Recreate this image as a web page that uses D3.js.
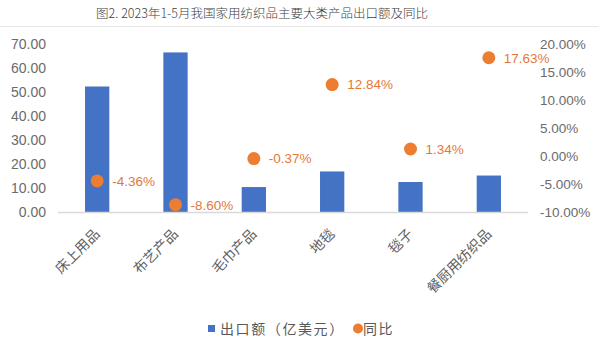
<!DOCTYPE html>
<html>
<head>
<meta charset="utf-8">
<script src="https://cdn.jsdelivr.net/npm/d3@7/dist/d3.min.js"></script>
<style>
  html, body { margin: 0; padding: 0; background: #fff; }
  svg { display: block; font-family: "Liberation Sans", Arial, "Noto Sans CJK SC", sans-serif; }
</style>
</head>
<body>
<svg id="chart" width="599" height="345"></svg>
<script>
// Export categories, export value (100 million USD) and year-on-year change (%)
const categories = ["床上用品", "布艺产品", "毛巾产品", "地毯", "毯子", "餐厨用纺织品"];
const exportValues = [52.5, 66.7, 10.6, 17.1, 12.7, 15.4];
const yoyChange = [-4.36, -8.60, -0.37, 12.84, 1.34, 17.63];
const leftTicks = [0, 10, 20, 30, 40, 50, 60, 70];
const rightTicks = [-10, -5, 0, 5, 10, 15, 20];
const titleText = "图2. 2023年1-5月我国家用纺织品主要大类产品出口额及同比";
const legendLabels = ["出口额（亿美元）", "同比"];

const svg = d3.select("#chart");
const BLUE = "#4472C4", ORANGE = "#ED7D31", LABEL_ORANGE = "#E2793A", AXIS_TEXT = "#6b6b6b";

// title and rule beneath it
svg.append("text")
  .attr("x", 262).attr("y", 18)
  .attr("text-anchor", "middle")
  .attr("font-family", "'Noto Sans CJK SC', sans-serif")
  .attr("font-weight", 300)
  .attr("font-size", 12.5).attr("fill", "#404040")
  .text(titleText);
svg.append("line")
  .attr("x1", 0).attr("x2", 599).attr("y1", 26.5).attr("y2", 26.5)
  .attr("stroke", "#e6e6e6").attr("stroke-width", 1);

const x = d3.scaleBand().domain(categories).range([58, 528]).paddingInner(0.69).paddingOuter(0.345);
const yL = d3.scaleLinear().domain([0, 70]).range([212.5, 44.5]);
const yR = d3.scaleLinear().domain([-10, 20]).range([212.5, 44.5]);

// left axis
const leftAxis = d3.axisLeft(yL).tickValues(leftTicks).tickFormat(d => d.toFixed(2)).tickSize(0).tickPadding(0);
const gL = svg.append("g").attr("transform", "translate(46,0)").call(leftAxis);
gL.select(".domain").remove();
gL.selectAll("text").attr("font-size", 14).attr("fill", AXIS_TEXT).attr("font-family", null);

// right axis
const rightAxis = d3.axisRight(yR).tickValues(rightTicks)
  .tickFormat(d => (d < 0 ? "-" : "") + Math.abs(d).toFixed(2) + "%").tickSize(0).tickPadding(0);
const gR = svg.append("g").attr("transform", "translate(540,0)").call(rightAxis);
gR.select(".domain").remove();
gR.selectAll("text").attr("font-size", 13.5).attr("fill", AXIS_TEXT).attr("font-family", null);

// bars
svg.append("g").selectAll("rect").data(categories).join("rect")
  .attr("x", d => x(d))
  .attr("y", (d, i) => yL(exportValues[i]))
  .attr("width", x.bandwidth())
  .attr("height", (d, i) => yL(0) - yL(exportValues[i]))
  .attr("fill", BLUE);

// baseline
svg.append("line")
  .attr("x1", 58).attr("x2", 528).attr("y1", yL(0)).attr("y2", yL(0))
  .attr("stroke", "#d9d9d9").attr("stroke-width", 1.5);

// category labels
svg.append("g").selectAll("text").data(categories).join("text")
  .attr("transform", d => `translate(${x(d) + x.bandwidth() / 2 + 0},${yL(0) + 19}) rotate(-45)`)
  .attr("text-anchor", "end")
  .attr("dy", "0.35em")
  .attr("font-size", 14).attr("fill", "#5f5f5f")
  .text(d => d);

// year-on-year points and labels
const cx = d => x(d) + x.bandwidth() / 2;
svg.append("g").selectAll("circle").data(categories).join("circle")
  .attr("cx", cx)
  .attr("cy", (d, i) => yR(yoyChange[i]))
  .attr("r", 6.5)
  .attr("fill", ORANGE);
svg.append("g").selectAll("text").data(categories).join("text")
  .attr("x", d => cx(d) + 15)
  .attr("y", (d, i) => yR(yoyChange[i]))
  .attr("dy", "0.36em")
  .attr("font-size", 13.5).attr("fill", LABEL_ORANGE)
  .text((d, i) => yoyChange[i].toFixed(2) + "%");

// legend
const lg = svg.append("g");
lg.append("rect").attr("x", 208).attr("y", 325).attr("width", 7).attr("height", 7).attr("fill", BLUE);
lg.append("text").attr("x", 220).attr("y", 328.5).attr("dy", "0.36em")
  .attr("font-size", 14).attr("letter-spacing", 1.6).attr("fill", "#595959").text(legendLabels[0]);
lg.append("circle").attr("cx", 358).attr("cy", 328.5).attr("r", 5).attr("fill", ORANGE);
lg.append("text").attr("x", 363).attr("y", 328.5).attr("dy", "0.36em")
  .attr("font-size", 14).attr("letter-spacing", 1.6).attr("fill", "#595959").text(legendLabels[1]);
</script>
</body>
</html>
